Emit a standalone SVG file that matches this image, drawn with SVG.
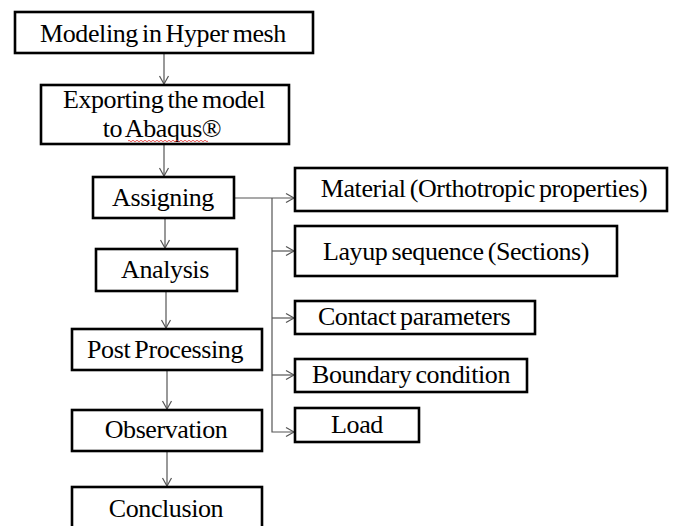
<svg xmlns="http://www.w3.org/2000/svg" width="681" height="526" viewBox="0 0 681 526">
  <style>
    .box { fill: #ffffff; stroke: #000000; stroke-width: 2.6; }
    .lbl { font-family: "Liberation Serif", "Times New Roman", serif; font-size: 26px; letter-spacing: -0.4px; word-spacing: -2px; fill: #000000; text-anchor: middle; }
    .conn { fill: none; stroke: #555555; stroke-width: 1.2; }
  </style>
  <defs>
    <marker id="arrow" markerUnits="userSpaceOnUse" markerWidth="12" markerHeight="12" refX="9" refY="6" orient="auto">
      <path d="M1,1.5 L9,6 L1,10.5" fill="none" stroke="#555555" stroke-width="1.2"/>
    </marker>
  </defs>
  <rect width="681" height="526" fill="#ffffff"/>

  <!-- connectors -->
  <g id="connectors">
    <line class="conn" x1="164" y1="53" x2="164" y2="84" marker-end="url(#arrow)"/>
    <line class="conn" x1="164" y1="144" x2="164" y2="176" marker-end="url(#arrow)"/>
    <line class="conn" x1="165" y1="218" x2="165" y2="248" marker-end="url(#arrow)"/>
    <line class="conn" x1="166" y1="291" x2="166" y2="328" marker-end="url(#arrow)"/>
    <line class="conn" x1="167" y1="370" x2="167" y2="409" marker-end="url(#arrow)"/>
    <line class="conn" x1="167" y1="451" x2="167" y2="486" marker-end="url(#arrow)"/>
    <!-- Assigning fan-out -->
    <line class="conn" x1="234" y1="198" x2="294" y2="198" marker-end="url(#arrow)"/>
    <polyline class="conn" points="272,198 272,432 294,432" marker-end="url(#arrow)"/>
    <line class="conn" x1="272" y1="251" x2="294" y2="251" marker-end="url(#arrow)"/>
    <line class="conn" x1="272" y1="318" x2="294" y2="318" marker-end="url(#arrow)"/>
    <line class="conn" x1="272" y1="375" x2="294" y2="375" marker-end="url(#arrow)"/>
  </g>

  <g id="modeling">
    <rect class="box" x="15" y="12" width="298" height="41"/>
    <text class="lbl" x="163" y="42">Modeling in Hyper mesh</text>
  </g>

  <g id="exporting">
    <rect class="box" x="41" y="85" width="248" height="59"/>
    <text class="lbl" x="164" y="108">Exporting the model</text>
    <text class="lbl" x="162" y="137">to Abaqus®</text>
    <path d="M128,141 q1,-1.5 2,0 t2,0 t2,0 t2,0 t2,0 t2,0 t2,0 t2,0 t2,0 t2,0 t2,0 t2,0 t2,0 t2,0 t2,0 t2,0 t2,0 t2,0 t2,0 t2,0 t2,0 t2,0 t2,0 t2,0 t2,0 t2,0 t2,0 t2,0 t2,0 t2,0 t2,0 t2,0 t2,0 t2,0 t2,0 t2,0 t2,0 t2,0 t2,0 t2,0" fill="none" stroke="#e03030" stroke-width="0.8"/>
  </g>

  <g id="assigning">
    <rect class="box" x="93" y="177" width="141" height="41"/>
    <text class="lbl" x="163" y="206">Assigning</text>
  </g>

  <g id="analysis">
    <rect class="box" x="96" y="249" width="141" height="42"/>
    <text class="lbl" x="165" y="278">Analysis</text>
  </g>

  <g id="post-processing">
    <rect class="box" x="72" y="329" width="190" height="41"/>
    <text class="lbl" x="165" y="358">Post Processing</text>
  </g>

  <g id="observation">
    <rect class="box" x="72" y="410" width="190" height="41"/>
    <text class="lbl" x="166" y="438">Observation</text>
  </g>

  <g id="conclusion">
    <rect class="box" x="72" y="487" width="190" height="45"/>
    <text class="lbl" x="166" y="517">Conclusion</text>
  </g>

  <g id="material">
    <rect class="box" x="295" y="168" width="372" height="43"/>
    <text class="lbl" x="484" y="197">Material (Orthotropic properties)</text>
  </g>

  <g id="layup">
    <rect class="box" x="295" y="226" width="322" height="50"/>
    <text class="lbl" x="456" y="260">Layup sequence (Sections)</text>
  </g>

  <g id="contact">
    <rect class="box" x="295" y="301" width="240" height="33"/>
    <text class="lbl" x="414" y="325">Contact parameters</text>
  </g>

  <g id="boundary">
    <rect class="box" x="295" y="359" width="232" height="33"/>
    <text class="lbl" x="411" y="383">Boundary condition</text>
  </g>

  <g id="load">
    <rect class="box" x="295" y="408" width="124" height="34"/>
    <text class="lbl" x="357" y="433">Load</text>
  </g>
</svg>
